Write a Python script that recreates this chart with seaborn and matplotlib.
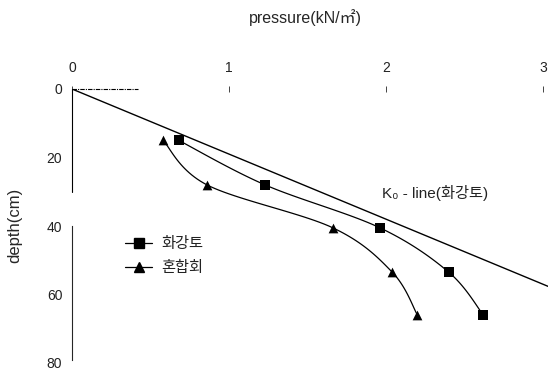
import numpy as np
import seaborn as sns
import matplotlib.pyplot as plt
from matplotlib.lines import Line2D

# values
depth = [15, 28, 40.5, 53.5, 66]
pressure_granite = [0.68, 1.23, 1.96, 2.40, 2.62]   # 화강토
pressure_mixed = [0.58, 0.86, 1.66, 2.04, 2.20]     # 혼합회
k0_depth = [0, 80]
k0_pressure = [0, 4.21]
x_ticks = [0, 1, 2, 3]
y_ticks = [0, 20, 40, 60, 80]
series_names = ["화강토", "혼합회"]



def smoothCurve(x, y, sx = 157.0, sy = 3.425, n = 25):
    # Catmull-Rom through the read points, done in pixel space so it looks like the spreadsheet smoothing
    pts = np.column_stack([np.asarray(x) * sx, np.asarray(y) * sy])
    p = np.vstack([pts[0], pts, pts[-1]])
    t = np.linspace(0, 1, n)[:, None]
    segs = []
    for i in range(1, len(p) - 2):
        p0, p1, p2, p3 = p[i - 1], p[i], p[i + 1], p[i + 2]
        seg = 0.5 * ((2 * p1) + (-p0 + p2) * t + (2 * p0 - 5 * p1 + 4 * p2 - p3) * t ** 2
                     + (-p0 + 3 * p1 - 3 * p2 + p3) * t ** 3)
        segs.append(seg)
    curve = np.vstack(segs)
    return curve[:, 0] / sx, curve[:, 1] / sy



sns.set_style("white")
plt.rcParams['font.family'] = ['Liberation Sans', 'DejaVu Sans', 'Noto Sans CJK KR']
plt.rcParams['text.color'] = '#222222'

fig = plt.figure(figsize=(5.48, 3.72), dpi=100)
ax = fig.add_axes([72 / 548, 1 - 363 / 372, 476 / 548, 274 / 372])

lw = 0.9
for xs, mk, ms in [(pressure_granite, "s", 6.5), (pressure_mixed, "^", 7)]:
    cx, cy = smoothCurve(xs, depth)
    sns.lineplot(x=cx, y=cy, sort=False, estimator=None, color="black", lw=lw, ax=ax)
    sns.scatterplot(x=xs, y=depth, marker=mk, s=ms ** 2, color="black", edgecolor="black",
                    linewidth=0, ax=ax, zorder=3)

# K0 line
sns.lineplot(x=k0_pressure, y=k0_depth, sort=False, estimator=None, color="black", lw=1.0, ax=ax)
ax.text(1.975, 30.4, "K₀ - line(화강토)", fontsize=11, ha="left", va="center")

# top axis: only a short dash-dot piece survives
ax.plot([0, 0.42], [0, 0], color="black", lw=0.8, ls=(0, (4, 1, 1, 1)), clip_on=False)

ax.set_xlim(0, 476 / 157)
ax.set_ylim(80, 0)
ax.set_xticks(x_ticks)
ax.set_yticks(y_ticks)
ax.xaxis.tick_top()
ax.tick_params(axis="x", direction="inout", length=4, width=0.6, pad=8, labelsize=10,
               labelcolor="#222222")
ax.tick_params(axis="y", direction="in", length=2, width=0.6, pad=7, labelsize=10,
               labelcolor="#222222")

for side in ["top", "right", "bottom"]:
    ax.spines[side].set_visible(False)
ax.spines["left"].set_linewidth(0.8)
ax.spines["left"].set_bounds(40, 79)
ax.plot([0, 0], [0, 30], color="black", lw=0.8, clip_on=False)

ax.xaxis.set_label_position("top")
ax.set_xlabel("pressure(kN/㎡)", fontsize=11.5, va="center")
ax.xaxis.set_label_coords(0.49, 1.259)
ax.set_ylabel("depth(cm)", fontsize=12)
ax.yaxis.set_label_coords(-0.105, 0.504)

handles = [Line2D([], [], color="black", lw=lw, marker="s", markersize=6.5),
           Line2D([], [], color="black", lw=lw, marker="^", markersize=7)]
ax.legend(handles, series_names, loc="upper left", bbox_to_anchor=(0.111, 0.46), frameon=False,
          borderpad=0, borderaxespad=0, handlelength=1.8, handletextpad=0.6, labelspacing=0.65,
          fontsize=11)

plt.savefig("out.png", dpi=100)
plt.close()
